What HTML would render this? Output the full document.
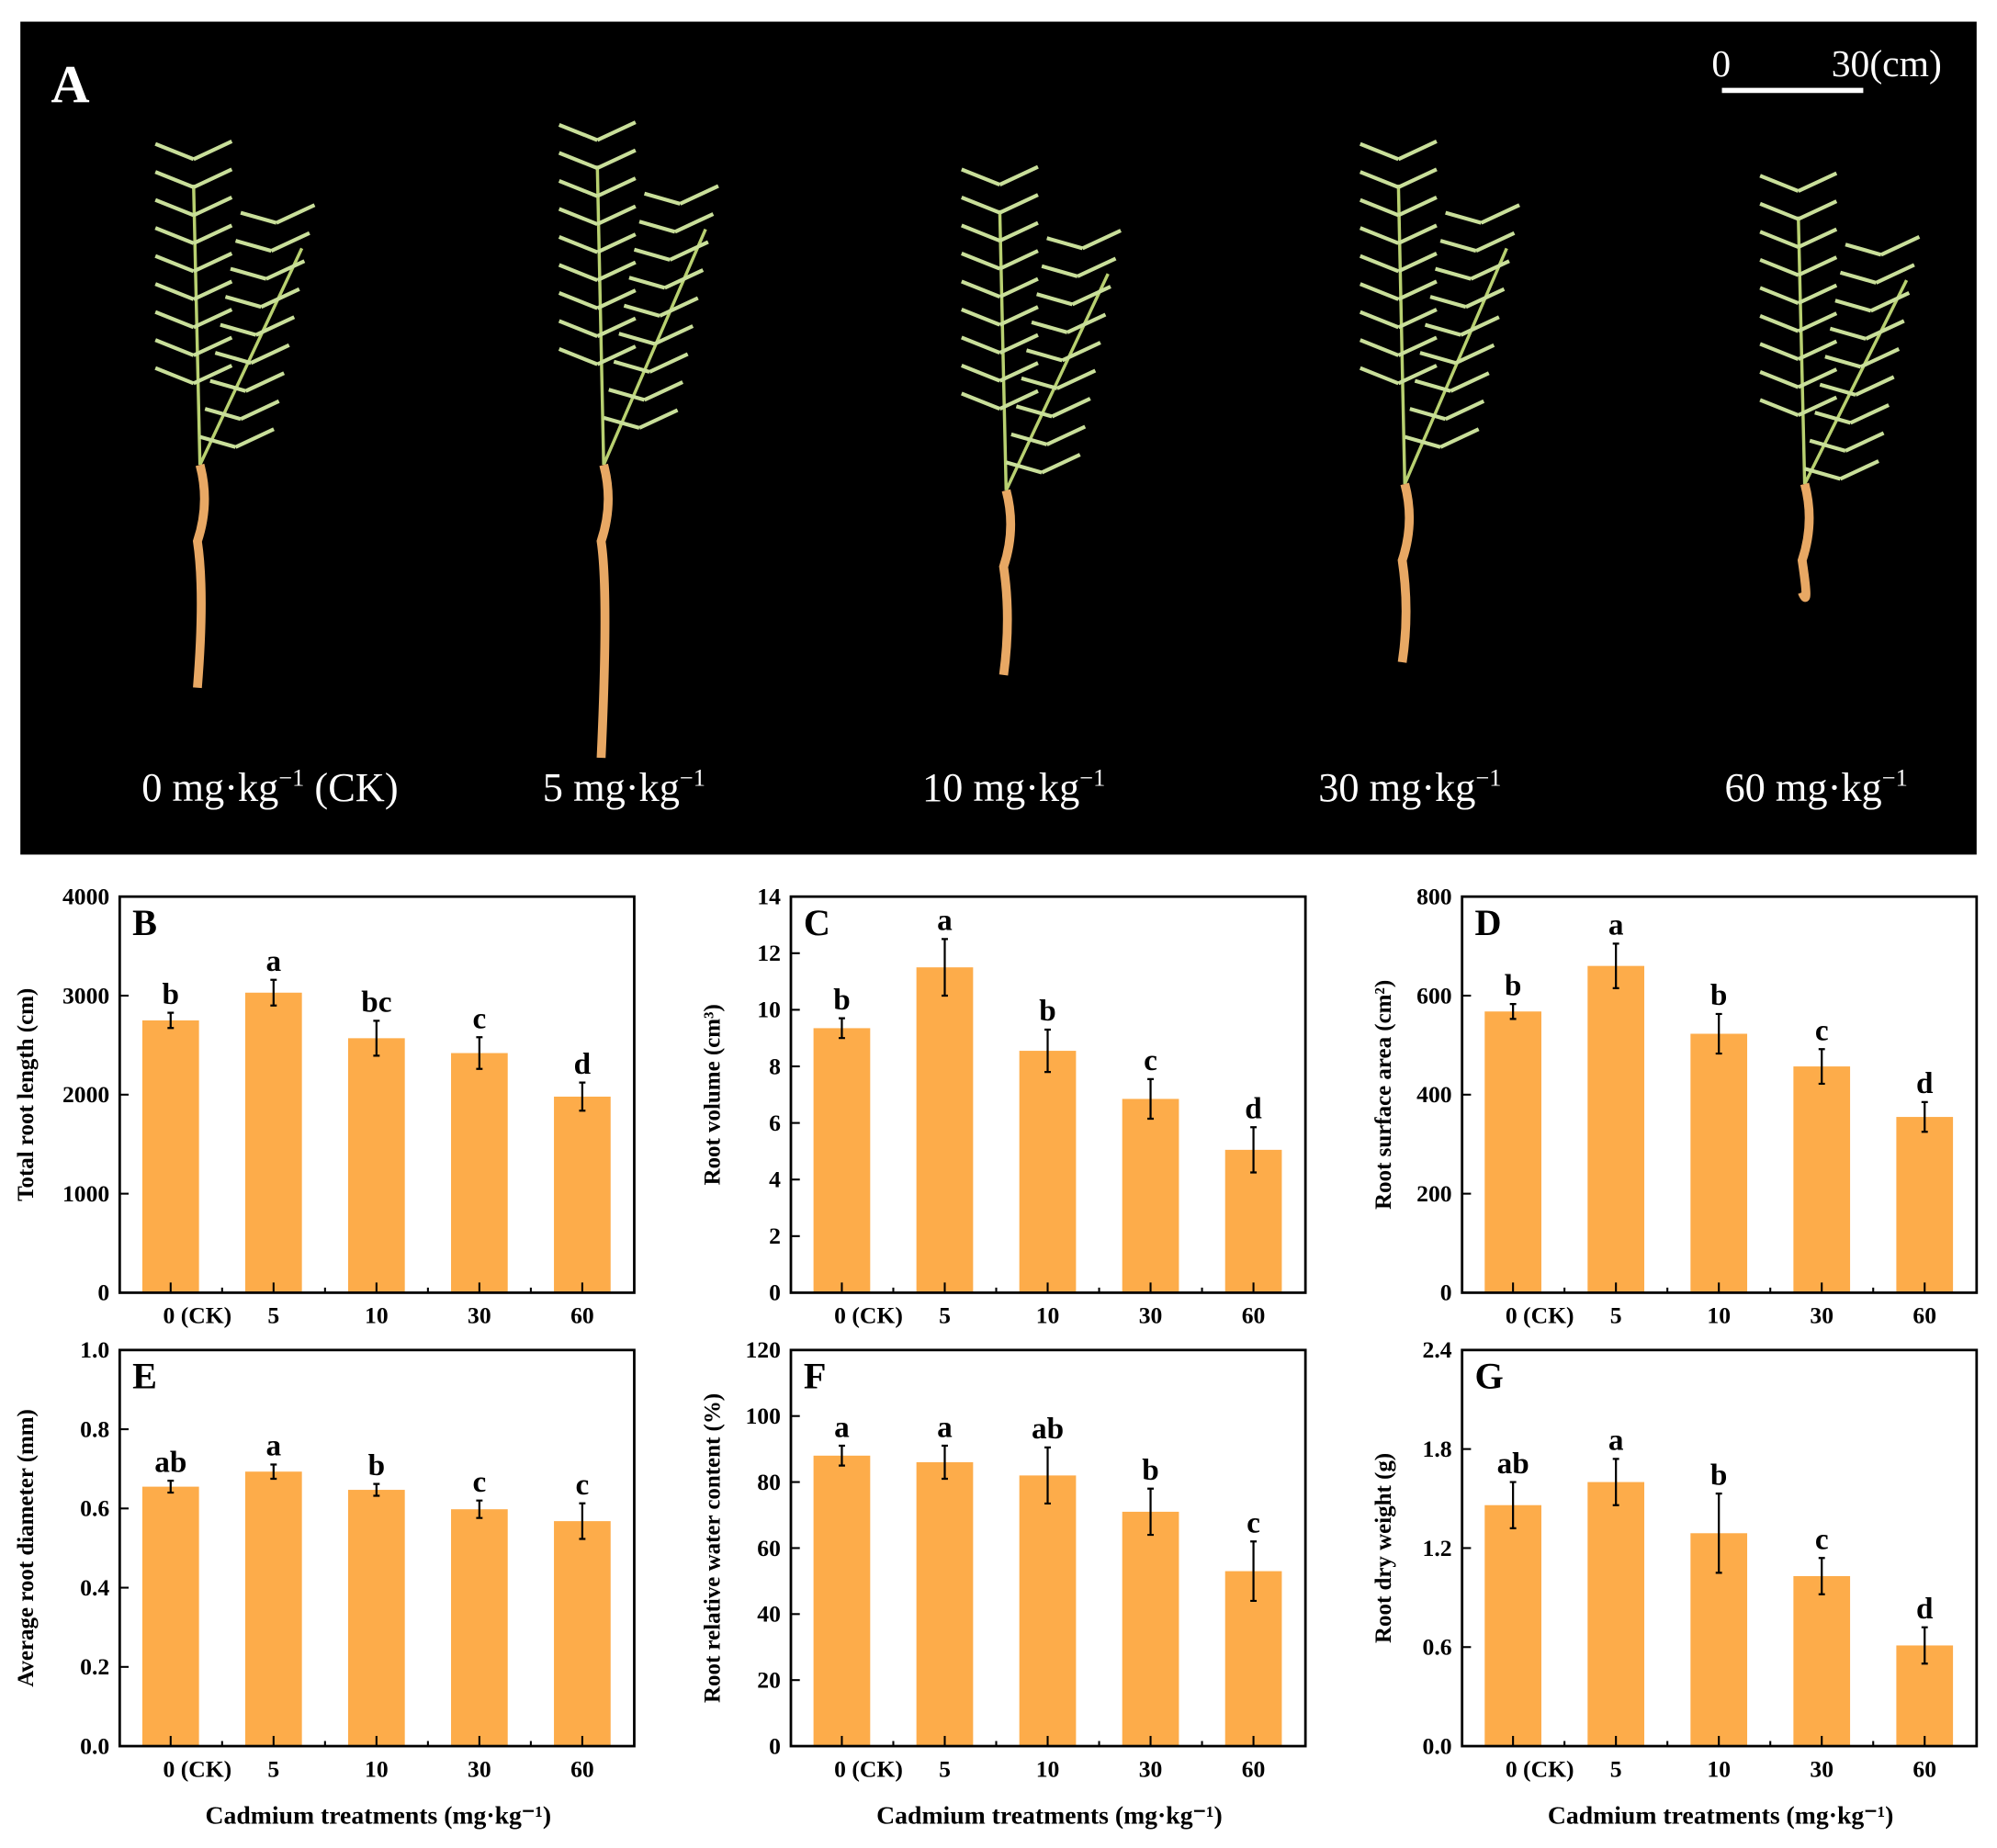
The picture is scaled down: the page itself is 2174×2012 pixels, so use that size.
<!DOCTYPE html>
<html><head><meta charset="utf-8">
<style>
html,body{margin:0;padding:0;background:#fff;}
svg{display:block;font-family:"Liberation Serif",serif;}
</style></head>
<body>
<svg id="fig" width="2174" height="2012" viewBox="0 0 1568 1451" preserveAspectRatio="none" xmlns="http://www.w3.org/2000/svg">
<g>
<rect x="16" y="17" width="1536" height="654" fill="#000"/>
<text x="40" y="80" font-size="42" font-weight="bold" fill="#fff">A</text>
<line x1="1352" y1="71" x2="1463" y2="71" stroke="#fff" stroke-width="4"/>
<text x="1344" y="60" font-size="30" fill="#fff">0</text>
<text x="1438" y="60" font-size="30" fill="#fff">30(cm)</text>
<g id="plants"></g>
<text x="212" y="629" font-size="32" fill="#fff" text-anchor="middle">0 mg·kg<tspan font-size="19" dy="-12">−1</tspan><tspan dy="12"> (CK)</tspan></text>
<text x="490" y="629" font-size="32" fill="#fff" text-anchor="middle">5 mg·kg<tspan font-size="19" dy="-12">−1</tspan></text>
<text x="796" y="629" font-size="32" fill="#fff" text-anchor="middle">10 mg·kg<tspan font-size="19" dy="-12">−1</tspan></text>
<text x="1107" y="629" font-size="32" fill="#fff" text-anchor="middle">30 mg·kg<tspan font-size="19" dy="-12">−1</tspan></text>
<text x="1426" y="629" font-size="32" fill="#fff" text-anchor="middle">60 mg·kg<tspan font-size="19" dy="-12">−1</tspan></text>
</g>
<g id="charts"></g>
</svg>
<script>
const categories = ["0 (CK)", "5", "10", "30", "60"];
const valuesB = [2750, 3030, 2570, 2420, 1980];
const errorsB = [77, 130, 176, 160, 142];
const lettersB = ["b", "a", "bc", "c", "d"];
const ticksB = [0, 1000, 2000, 3000, 4000];
const valuesC = [9.35, 11.5, 8.55, 6.85, 5.05];
const errorsC = [0.35, 1.0, 0.75, 0.7, 0.8];
const lettersC = ["b", "a", "b", "c", "d"];
const ticksC = [0, 2, 4, 6, 8, 10, 12, 14];
const valuesD = [568, 660, 523, 457, 355];
const errorsD = [15, 45, 40, 35, 30];
const lettersD = ["b", "a", "b", "c", "d"];
const ticksD = [0, 200, 400, 600, 800];
const valuesE = [0.655, 0.693, 0.647, 0.598, 0.568];
const errorsE = [0.015, 0.018, 0.015, 0.022, 0.045];
const lettersE = ["ab", "a", "b", "c", "c"];
const ticksE = [0, 0.2, 0.4, 0.6, 0.8, 1.0];
const valuesF = [88, 86, 82, 71, 53];
const errorsF = [3, 5, 8.5, 7, 9];
const lettersF = ["a", "a", "ab", "b", "c"];
const ticksF = [0, 20, 40, 60, 80, 100, 120];
const valuesG = [1.46, 1.6, 1.29, 1.03, 0.61];
const errorsG = [0.14, 0.14, 0.24, 0.11, 0.11];
const lettersG = ["ab", "a", "b", "c", "d"];
const ticksG = [0, 0.6, 1.2, 1.8, 2.4];

const NS = "http://www.w3.org/2000/svg";
function mk(tag, attrs, parent, txt){
  const e = document.createElementNS(NS, tag);
  for (const k in attrs) e.setAttribute(k, attrs[k]);
  if (txt !== undefined) e.textContent = txt;
  parent.appendChild(e); return e;
}
const charts = document.getElementById("charts");
const panels = [
  {id:"b", L:"B", x:94, y:704, vals:valuesB, errs:errorsB, lets:lettersB, ticks:ticksB, dec:0, title:"Total root length (cm)", xt:false},
  {id:"c", L:"C", x:621, y:704, vals:valuesC, errs:errorsC, lets:lettersC, ticks:ticksC, dec:0, title:"Root volume (cm³)", xt:false},
  {id:"d", L:"D", x:1148, y:704, vals:valuesD, errs:errorsD, lets:lettersD, ticks:ticksD, dec:0, title:"Root surface area (cm²)", xt:false},
  {id:"e", L:"E", x:94, y:1060, vals:valuesE, errs:errorsE, lets:lettersE, ticks:ticksE, dec:1, title:"Average root diameter (mm)", xt:true},
  {id:"f", L:"F", x:621, y:1060, vals:valuesF, errs:errorsF, lets:lettersF, ticks:ticksF, dec:0, title:"Root relative water content (%)", xt:true},
  {id:"g", L:"G", x:1148, y:1060, vals:valuesG, errs:errorsG, lets:lettersG, ticks:ticksG, dec:1, title:"Root dry weight (g)", xt:true}
];
const W = 404, H = 311, BW = 44.5;
panels.forEach(p => {
  const g = mk("g", {}, charts);
  
  
  const ymax = p.ticks[p.ticks.length-1];
  const yS = v => p.y + H - v / ymax * H;
  const slot = 80.8;
  const xS = i => p.x + 40 + i * slot;
  p.vals.forEach((v, i) => {
    const r = mk("rect", {x: xS(i) - BW/2, y: yS(v), width: BW, height: yS(0) - yS(v), fill: "#FDAC4A"}, g);
    
    
    const e = p.errs[i];
    const eb = mk("path", {d: `M${xS(i)},${yS(v+e)}V${yS(v-e)}M${xS(i)-2.5},${yS(v+e)}h5M${xS(i)-2.5},${yS(v-e)}h5`, stroke: "#000", "stroke-width": 1.6, fill: "none"}, g);
    
    
    const t = mk("text", {x: xS(i), y: yS(v+e) - 7, "font-size": 24, "font-weight": "bold", "text-anchor": "middle"}, g, p.lets[i]);
    
    
    const xl = mk("text", {x: i === 0 ? xS(i) - 6 : xS(i), y: p.y + H + 24, "font-size": 18.5, "font-weight": "bold", "text-anchor": i === 0 ? "start" : "middle"}, g, categories[i]);
    
    
    mk("line", {x1: xS(i), x2: xS(i), y1: p.y + H, y2: p.y + H - 8, stroke: "#000", "stroke-width": 1.5}, g);
    if (i > 0) mk("line", {x1: xS(i) - slot/2, x2: xS(i) - slot/2, y1: p.y + H, y2: p.y + H - 4, stroke: "#000", "stroke-width": 1.5}, g);
  });
  p.ticks.forEach(t => {
    mk("line", {x1: p.x, x2: p.x + 7, y1: yS(t), y2: yS(t), stroke: "#000", "stroke-width": 1.5}, g);
    const tl = mk("text", {x: p.x - 8, y: yS(t) + 6, "font-size": 18.5, "font-weight": "bold", "text-anchor": "end"}, g, t.toFixed(p.dec));
    
    
  });
  const box = mk("rect", {x: p.x, y: p.y, width: W, height: H, fill: "none", stroke: "#000", "stroke-width": 2}, g);
  
  
  const pl = mk("text", {x: p.x + 10, y: p.y + 30, "font-size": 29, "font-weight": "bold"}, g, p.L);
  
  
  const tx = p.x - (p.id === "b" || p.id === "e" ? 68 : 56);
  const yt = mk("text", {x: tx, y: p.y + H/2, "font-size": 18, "font-weight": "bold", "text-anchor": "middle", transform: `rotate(-90 ${tx} ${p.y + H/2})`}, g, p.title);
  
  
  if (p.xt) {
    const xtt = mk("text", {x: p.x + W/2 + 1, y: p.y + H + 61, "font-size": 20, "font-weight": "bold", "text-anchor": "middle"}, g, "Cadmium treatments (mg·kg⁻¹)");
    
    
  }
});
const plants = document.getElementById("plants");
const plantDefs = [[157,365,540,105],[474,365,595,90],[790,385,530,125],[1103,380,520,105],[1417,380,465,130]];
plantDefs.forEach((d, k) => {
  const [x, base, rootEnd, top] = d;
  const pg = mk("g", {}, plants);
  
  
  mk("path", {d: `M${x},${base}L${x-5},${top+40}M${x},${base}L${x+80},${top+90}`, stroke: "#b8d070", "stroke-width": 2.5, fill: "none"}, pg);
  for (let j = 0; j < 9; j++) {
    const yy = top + 20 + j * 22;
    mk("path", {d: `M${x-5},${yy}l-30,${-12}M${x-5},${yy}l30,${-14}M${x+60-j*4},${yy+50}l-28,-8M${x+60-j*4},${yy+50}l30,-14`, stroke: "#c9df9a", "stroke-width": 3, fill: "none"}, pg);
  }
  mk("path", {d: `M${x},${base}q8,30 -2,60q6,40 0,${rootEnd-base-60}`, stroke: "#e8a864", "stroke-width": 7, fill: "none"}, pg);
});
</script>
</body></html>
